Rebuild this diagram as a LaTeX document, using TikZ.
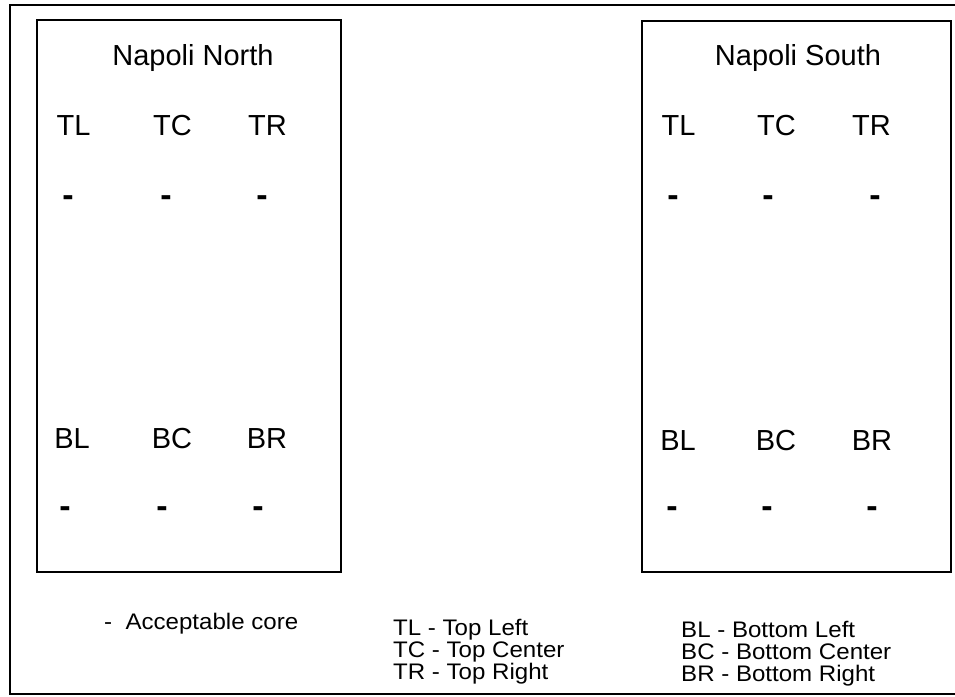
\documentclass[tikz,border=0pt]{standalone}
\usepackage{fontspec}
\setmainfont{Liberation Sans}
\newfontfamily\legendfont[FakeStretch=1.07]{Liberation Sans}
\begin{document}
\begin{tikzpicture}[x=1pt,y=-1pt,
  frame/.style={line width=1.6pt},
  boxarea/.style={draw, line width=1.6pt, inner sep=0pt},
  lbl/.style={anchor=base, inner sep=0pt, font=\fontsize{29}{34}\selectfont},
  dashmark/.style={anchor=base, inner sep=0pt, font=\fontsize{34}{34}\selectfont\bfseries},
  legend/.style={anchor=base west, inner sep=0pt, align=left, font=\legendfont\fontsize{22.5}{21.8}\selectfont}]
\useasboundingbox (0,0) rectangle (955,696);
% outer frame (open on the right)
\draw[frame] (955,5) -- (10,5) -- (10,694) -- (955,694);
% boxes
\node[boxarea, minimum width=304pt, minimum height=552pt] (north) at (189,296) {};
\node[boxarea, minimum width=309pt, minimum height=551pt] (south) at (796.5,296.5) {};
% titles
\node[lbl] (ntitle) at (193,65) {Napoli North};
\node[lbl] (stitle) at (798,65) {Napoli South};
% north labels
\node[lbl] (nTL) at (73.5,135) {TL};
\node[lbl] (nTC) at (172.5,135) {TC};
\node[lbl] (nTR) at (267.5,135) {TR};
\node[lbl] (nBL) at (72,448) {BL};
\node[lbl] (nBC) at (172,448) {BC};
\node[lbl] (nBR) at (267,448) {BR};
\node[dashmark] (ndTL) at (68,206) {-};
\node[dashmark] (ndTC) at (166,206) {-};
\node[dashmark] (ndTR) at (262,206) {-};
\node[dashmark] (ndBL) at (65,517) {-};
\node[dashmark] (ndBC) at (162,517) {-};
\node[dashmark] (ndBR) at (258,517) {-};
% south labels
\node[lbl] (sTL) at (678.5,135) {TL};
\node[lbl] (sTC) at (776.5,135) {TC};
\node[lbl] (sTR) at (871.5,135) {TR};
\node[lbl] (sBL) at (678,450) {BL};
\node[lbl] (sBC) at (776,450) {BC};
\node[lbl] (sBR) at (872,450) {BR};
\node[dashmark] (sdTL) at (673,206) {-};
\node[dashmark] (sdTC) at (768,206) {-};
\node[dashmark] (sdTR) at (875,206) {-};
\node[dashmark] (sdBL) at (672,517) {-};
\node[dashmark] (sdBC) at (767,517) {-};
\node[dashmark] (sdBR) at (872,517) {-};
% legend
\node[legend] (lcore) at (104,629) {-\ \ Acceptable core};
\node[legend] (ltop) at (393,679) {TL - Top Left\\TC - Top Center\\TR - Top Right};
\node[legend] (lbottom) at (681,681) {BL - Bottom Left\\BC - Bottom Center\\BR - Bottom Right};
\end{tikzpicture}
\end{document}
